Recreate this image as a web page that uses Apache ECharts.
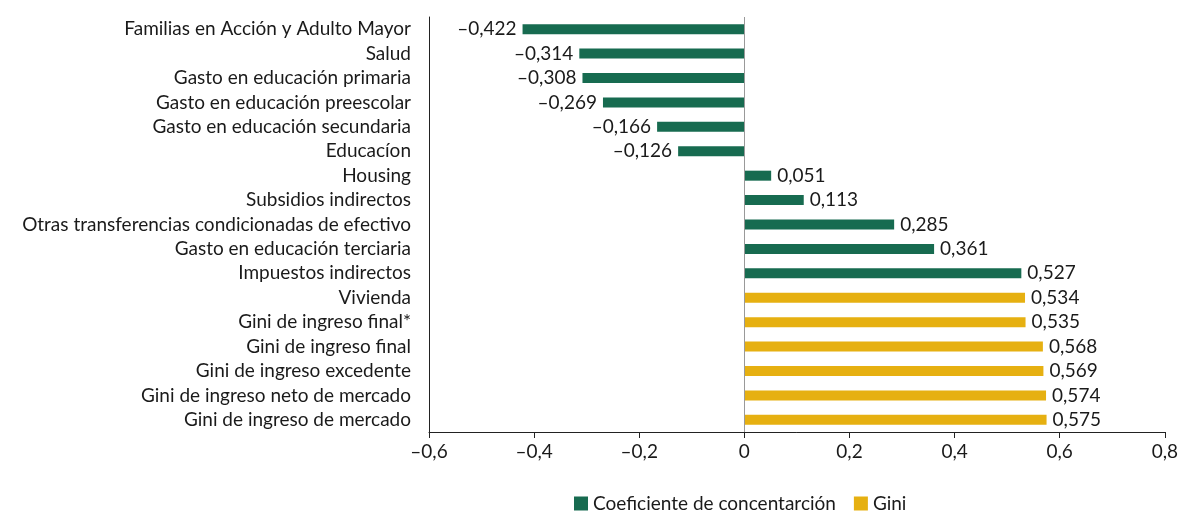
<!DOCTYPE html>
<html>
<head>
<meta charset="utf-8">
<script src="https://cdn.jsdelivr.net/npm/echarts@6/dist/echarts.min.js"></script>
<style>
  html, body { margin: 0; padding: 0; background: #fff; }
  #chart { width: 1181px; height: 512px; }
</style>
</head>
<body>
<div id="chart"></div>
<script>
const categories = [
  'Familias en Acción y Adulto Mayor',
  'Salud',
  'Gasto en educación primaria',
  'Gasto en educación preescolar',
  'Gasto en educación secundaria',
  'Educacíon',
  'Housing',
  'Subsidios indirectos',
  'Otras transferencias condicionadas de efectivo',
  'Gasto en educación terciaria',
  'Impuestos indirectos',
  'Vivienda',
  'Gini de ingreso final*',
  'Gini de ingreso final',
  'Gini de ingreso excedente',
  'Gini de ingreso neto de mercado',
  'Gini de ingreso de mercado'
]
const concentracion = [-0.422, -0.314, -0.308, -0.269, -0.166, -0.126, 0.051, 0.113, 0.285, 0.361, 0.527, '-', '-', '-', '-', '-', '-']
const gini = ['-', '-', '-', '-', '-', '-', '-', '-', '-', '-', '-', 0.534, 0.535, 0.568, 0.569, 0.574, 0.575]
const xTicks = [-0.6, 0.8, 0.2] // min, max, interval

const fontFamily = 'Lato, "Open Sans", sans-serif'
const fs = 19

// formato con coma decimal y guion largo
function fmt (v, digits) {
  let s = digits === undefined ? String(+v.toFixed(1)) : v.toFixed(digits)
  return s.replace('-', '\u2013').replace('.', ',')
}

const chart = echarts.init(document.getElementById('chart'))
const option = {
  animation: false,
  grid: {
    top: 17,
    left: 429,
    right: 15,
    bottom: 80
  },
  legend: {
    top: 489,
    left: 569,
    icon: 'rect',
    itemWidth: 14,
    itemHeight: 14,
    itemGap: 18,
    textStyle: { fontSize: fs, color: '#1a1a1a', fontFamily: fontFamily },
    data: ['Coeficiente de concentarción', 'Gini']
  },
  xAxis: {
    type: 'value',
    min: xTicks[0],
    max: xTicks[1],
    interval: xTicks[2],
    axisLine: { show: true, onZero: false, lineStyle: { color: '#222', width: 1 } },
    axisTick: { show: true, length: 6, lineStyle: { color: '#222' } },
    splitLine: { show: false },
    axisLabel: {
      margin: 10,
      fontSize: fs,
      color: '#1a1a1a',
      fontFamily: fontFamily,
      formatter: v => (Math.abs(v) < 1e-9 ? '0' : fmt(v))
    }
  },
  yAxis: {
    type: 'category',
    inverse: true,
    data: categories,
    axisLine: { show: true, onZero: false, lineStyle: { color: '#222', width: 1 } },
    axisTick: { show: false },
    axisLabel: {
      interval: 0,
      hideOverlap: false,
      margin: 18,
      fontSize: fs,
      lineHeight: 20,
      color: '#1a1a1a',
      fontFamily: fontFamily
    }
  },
  series: [
    {
      name: 'Coeficiente de concentarción',
      type: 'bar',
      stack: 'total',
      barWidth: 10,
      itemStyle: { color: '#176b50' },
      label: {
        show: true,
        position: 'right',
        distance: 6,
        color: '#1a1a1a',
        fontSize: fs,
        fontFamily: fontFamily,
        formatter: p => fmt(p.value, 3)
      },
      data: concentracion.map(v => (v === '-' ? '-' : {
        value: v,
        label: { position: v < 0 ? 'left' : 'right' }
      })),
      markLine: {
        silent: true,
        symbol: 'none',
        label: { show: false },
        lineStyle: { color: '#999', width: 1, type: 'solid' },
        data: [{ xAxis: 0 }]
      }
    },
    {
      name: 'Gini',
      type: 'bar',
      stack: 'total',
      barWidth: 10,
      itemStyle: { color: '#e6b011' },
      label: {
        show: true,
        position: 'right',
        distance: 6,
        color: '#1a1a1a',
        fontSize: fs,
        fontFamily: fontFamily,
        formatter: p => fmt(p.value, 3)
      },
      data: gini
    }
  ]
}
chart.setOption(option)
</script>
</body>
</html>
